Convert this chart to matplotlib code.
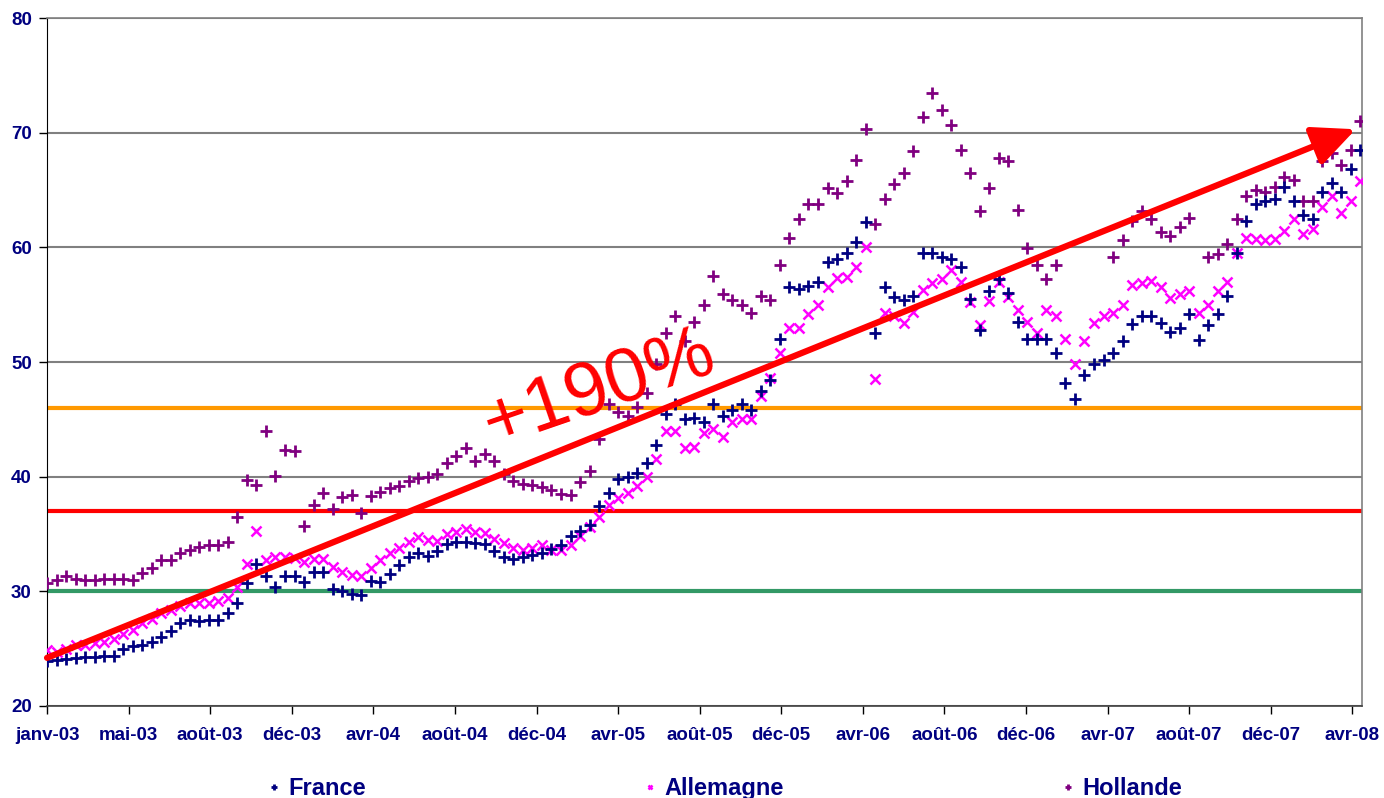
import numpy as np
import pandas as pd
import matplotlib
matplotlib.use("Agg")
import matplotlib.pyplot as plt

plt.rcParams['font.family'] = ['Liberation Sans', 'DejaVu Sans']

# prices, one value every 14 days from 1 Jan 2003
dates = pd.date_range("2003-01-01", periods=139, freq="14D")

france = [23.9, 24.0, 24.1, 24.2, 24.3, 24.3, 24.4, 24.4, 25.0, 25.2,
          25.3, 25.6, 26.0, 26.5, 27.2, 27.5, 27.4, 27.5, 27.5, 28.1,
          29.0, 30.7, 32.4, 31.3, 30.4, 31.3, 31.3, 30.8, 31.7, 31.7,
          30.2, 30.0, 29.8, 29.7, 30.9, 30.8, 31.5, 32.3, 33.0, 33.3,
          33.1, 33.5, 34.1, 34.3, 34.3, 34.2, 34.1, 33.5, 33.0, 32.8,
          33.0, 33.2, 33.3, 33.7, 34.0, 34.8, 35.3, 35.8, 37.4, 38.6,
          39.8, 40.0, 40.3, 41.2, 42.8, 45.5, 46.3, 45.0, 45.1, 44.8,
          46.3, 45.3, 45.8, 46.3, 45.8, 47.5, 48.4, 52.0, 56.5, 56.4,
          56.6, 57.0, 58.7, 59.0, 59.5, 60.5, 62.2, 52.5, 56.5, 55.7,
          55.4, 55.8, 59.5, 59.5, 59.2, 59.0, 58.3, 55.5, 52.8, 56.2,
          57.2, 56.0, 53.5, 52.0, 52.0, 52.0, 50.8, 48.2, 46.8, 48.9,
          49.8, 50.2, 50.8, 51.8, 53.3, 54.0, 54.0, 53.4, 52.6, 53.0,
          54.2, 51.9, 53.2, 54.2, 55.8, 59.5, 62.3, 63.8, 64.0, 64.2,
          65.3, 64.0, 62.8, 62.5, 64.8, 65.6, 64.8, 66.8, 68.5]

allemagne = [24.9, 24.7, 25.0, 25.3, 25.3, 25.5, 25.6, 25.8, 26.3, 26.6,
             27.2, 27.6, 28.1, 28.4, 28.7, 29.0, 29.0, 29.0, 29.2, 29.4,
             30.4, 32.4, 35.3, 32.7, 33.0, 33.0, 32.9, 32.6, 32.8, 32.8,
             32.1, 31.7, 31.4, 31.3, 32.0, 32.7, 33.3, 33.8, 34.3, 34.7,
             34.5, 34.4, 35.0, 35.2, 35.4, 35.2, 35.1, 34.6, 34.2, 33.8,
             33.6, 33.8, 34.0, 33.6, 33.6, 34.0, 34.8, 35.6, 36.5, 37.5,
             38.1, 38.6, 39.2, 40.0, 41.5, 44.0, 44.0, 42.5, 42.6, 43.8,
             44.2, 43.5, 44.8, 45.0, 45.0, 47.0, 48.6, 50.8, 53.0, 53.0,
             54.2, 55.0, 56.5, 57.3, 57.4, 58.3, 60.0, 48.5, 54.3, 54.0,
             53.4, 54.4, 56.3, 56.9, 57.2, 58.0, 57.0, 55.2, 53.2, 55.3,
             57.0, 55.7, 54.5, 53.5, 52.5, 54.5, 54.0, 52.0, 49.8, 51.8,
             53.4, 54.0, 54.3, 55.0, 56.7, 56.9, 57.1, 56.5, 55.6, 55.9,
             56.2, 54.3, 55.0, 56.2, 57.0, 59.5, 60.8, 60.7, 60.6, 60.7,
             61.4, 62.5, 61.2, 61.6, 63.5, 64.5, 63.0, 64.0, 65.8]

nan = np.nan
hollande = [30.7, 31.0, 31.3, 31.1, 31.0, 31.0, 31.1, 31.1, 31.1, 31.0,
            31.6, 32.0, 32.7, 32.7, 33.3, 33.6, 33.9, 34.0, 34.0, 34.3,
            36.5, 39.7, 39.3, 44.0, 40.1, 42.3, 42.2, 35.7, 37.5, 38.6,
            37.2, 38.2, 38.4, 36.8, 38.3, 38.7, 39.0, 39.2, 39.6, 39.9,
            40.0, 40.2, 41.2, 41.8, 42.5, 41.4, 42.0, 41.4, 40.2, 39.6,
            39.4, 39.3, 39.1, 38.8, 38.5, 38.4, 39.5, 40.5, 43.3, 46.3,
            45.6, 45.3, 46.1, 47.3, 49.8, 52.5, 54.0, 51.8, 53.5, 55.0,
            57.5, 55.9, 55.4, 55.0, 54.3, 55.8, 55.4, 58.5, 60.8, 62.5,
            63.8, 63.8, 65.2, 64.7, 65.8, 67.6, 70.3, 62.0, 64.2, 65.5,
            66.5, 68.4, 71.4, 73.5, 72.0, 70.7, 68.5, 66.5, 63.2, 65.2,
            67.8, 67.5, 63.3, 59.9, 58.5, 57.2, 58.5, nan, nan, nan,
            nan, nan, 59.2, 60.6, 62.3, 63.2, 62.5, 61.3, 61.0, 61.8,
            62.6, nan, 59.2, 59.4, 60.3, 62.5, 64.5, 65.0, 64.8, 65.3,
            66.1, 65.9, 64.0, 64.0, 67.5, 68.2, 67.2, 68.5, 71.0]

# reference levels
levels = [30, 37, 46]
level_colors = ['#339966', '#FF0000', '#FF9900']

tick_labels = ['janv-03', 'mai-03', 'août-03', 'déc-03', 'avr-04', 'août-04',
               'déc-04', 'avr-05', 'août-05', 'déc-05', 'avr-06', 'août-06',
               'déc-06', 'avr-07', 'août-07', 'déc-07', 'avr-08']

start = pd.Timestamp("2003-01-01")
tick_dates = pd.date_range(start, periods=len(tick_labels), freq="120D")

# trend arrow: start and end of the period
trend_start = (start, 24.2)
trend_end = (start + pd.Timedelta(days=1925), 70.3)

navy = '#000080'

fig = plt.figure(figsize=(13.84, 7.98), dpi=100)
ax = fig.add_axes([0.034, 0.1153, 0.950, 0.8621])

for lv, c in zip(levels, level_colors):
    ax.axhline(lv, color=c, lw=3, zorder=1.5)

ax.plot(dates, hollande, ls='none', marker='+', ms=8, mew=2,
        color='#800080', label='Hollande', zorder=3)
ax.plot(dates, allemagne, ls='none', marker='x', ms=7, mew=1.8,
        color='#FF00FF', label='Allemagne', zorder=3)
ax.plot(dates, france, ls='none', marker='+', ms=8, mew=2,
        color=navy, label='France', zorder=3)

ax.annotate('', xy=trend_end, xytext=trend_start,
            arrowprops=dict(arrowstyle='-|>,head_length=1.3,head_width=0.6',
                            mutation_scale=20, color='#FF0000', lw=4.5,
                            shrinkA=0, shrinkB=0), zorder=5)
ax.text(start + pd.Timedelta(days=812), 47.6, '+190%', color='#FF0000',
        fontsize=55, rotation=19, ha='center', va='center',
        rotation_mode='anchor', zorder=5)

ax.set_ylim(20, 80)
ax.set_yticks(range(20, 81, 10))
ax.set_xlim(start, start + pd.Timedelta(days=1934))
ax.set_xticks(tick_dates)
ax.set_xticklabels(tick_labels)

ax.grid(axis='y', color='#808080', lw=1.5, zorder=1)
ax.set_axisbelow(True)
for s in ['top', 'right']:
    ax.spines[s].set_color('#808080')
    ax.spines[s].set_linewidth(1.2)
ax.spines['left'].set_color('black')
ax.spines['bottom'].set_color('#404040')
ax.spines['bottom'].set_linewidth(1.2)

ax.tick_params(axis='both', direction='out', length=6, width=1,
               labelsize=13.5, labelcolor=navy)
ax.tick_params(axis='x', pad=9)
ax.tick_params(axis='y', pad=5)
for lab in ax.get_xticklabels() + ax.get_yticklabels():
    lab.set_fontweight('bold')

handles, labels = ax.get_legend_handles_labels()
order = [2, 1, 0]
leg = fig.legend([handles[i] for i in order], [labels[i] for i in order],
                 loc='center', bbox_to_anchor=(0.524, 0.012), ncol=3,
                 frameon=False, columnspacing=11.8, handlelength=0.5,
                 handletextpad=0.35, markerscale=0.5,
                 prop={'size': 17, 'weight': 'bold'})
for t in leg.get_texts():
    t.set_color(navy)

fig.savefig("out.png", dpi=100)
